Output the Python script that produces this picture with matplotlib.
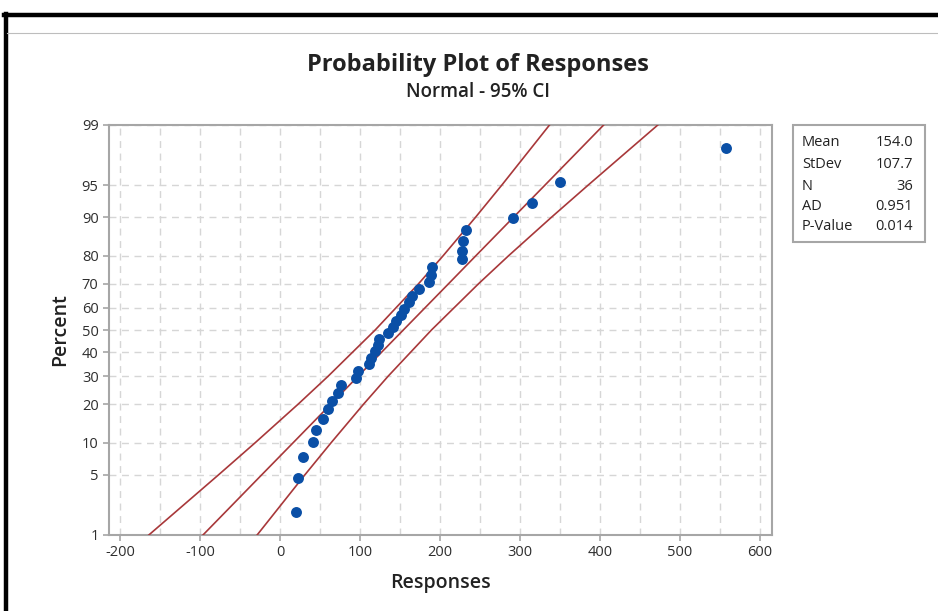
import matplotlib
matplotlib.use("Agg")
import matplotlib.pyplot as plt
import numpy as np
from statistics import NormalDist
from matplotlib.lines import Line2D
from matplotlib.patches import Rectangle

# data
responses = [20, 22, 28, 41, 45, 54, 60, 65, 72, 76, 95, 97, 111, 113, 118, 122,
             124, 135, 141, 145, 151, 155, 161, 165, 174, 186, 188, 190, 228, 228,
             229, 232, 291, 315, 350, 557]
percents = [1.92, 4.67, 7.42, 10.16, 12.91, 15.66, 18.41, 21.15, 23.90, 26.65,
            29.40, 32.14, 34.89, 37.64, 40.38, 43.13, 45.88, 48.63, 51.37, 54.12,
            56.87, 59.62, 62.36, 65.11, 67.86, 70.60, 73.35, 76.10, 78.85, 81.59,
            84.34, 87.09, 89.84, 92.58, 95.33, 98.08]

# fitted line and 95% CI bands (x read at these percent levels)
band_pct = [1, 5, 10, 20, 30, 50, 70, 80, 90, 95, 99]
fit_x = [-96.5, -23.2, 16.0, 63.4, 97.5, 154.0, 210.5, 244.6, 292.0, 331.2, 404.5]
ci_low = [-164.2, -77.2, -31.5, 22.5, 60.0, 118.8, 173.0, 203.7, 244.5, 277.2, 336.8]
ci_high = [-28.8, 30.8, 63.5, 104.3, 135.0, 189.2, 248.0, 285.5, 339.5, 385.2, 472.2]

y_ticks = [1, 5, 10, 20, 30, 40, 50, 60, 70, 80, 90, 95, 99]
x_ticks = [-200, -100, 0, 100, 200, 300, 400, 500, 600]
x_minor = [-150, -50, 50, 150, 250, 350, 450, 550]

stat_names = ["Mean", "StDev", "N", "AD", "P-Value"]
stat_values = ["154.0", "107.7", "36", "0.951", "0.014"]

plt.rcParams['font.family'] = ['Open Sans', 'DejaVu Sans']

nd = NormalDist()
def fwd(p):
    p = np.clip(np.asarray(p, float), 1e-4, 100 - 1e-4)
    return np.vectorize(lambda v: nd.inv_cdf(v / 100.0), otypes=[float])(p)

def inv(z):
    z = np.asarray(z, float)
    return np.vectorize(lambda v: nd.cdf(v) * 100.0, otypes=[float])(z)

W, H = 938, 611
fig = plt.figure(figsize=(W / 100, H / 100), dpi=100)
ax = fig.add_axes([109 / W, 1 - 535 / H, (772 - 109) / W, (535 - 125) / H])
ax.set_yscale('function', functions=(fwd, inv))

red = '#A8383A'
ax.plot(fit_x, band_pct, color=red, lw=1.2, zorder=3)
ax.plot(ci_low, band_pct, color=red, lw=1.2, zorder=3)
ax.plot(ci_high, band_pct, color=red, lw=1.2, zorder=3)
ax.scatter(responses, percents, s=62, color='#0A4FA6', zorder=4, linewidths=0)

ax.set_xlim(-214, 615)
ax.set_ylim(1, 99)
ax.set_yticks(y_ticks)
ax.set_yticklabels([str(v) for v in y_ticks])
ax.set_yticks([], minor=True)
ax.set_xticks(x_ticks)
ax.set_xticklabels([str(v) for v in x_ticks])
ax.set_xticks(x_minor, minor=True)

gcol = '#d6d6d6'
ax.grid(True, which='major', axis='y', color=gcol, ls=(0, (5, 4)), lw=1)
ax.grid(True, which='both', axis='x', color=gcol, ls=(0, (5, 4)), lw=1)
ax.set_axisbelow(True)

for s in ax.spines.values():
    s.set_color('#a6a6a6')
    s.set_linewidth(1.5)
ax.tick_params(axis='both', which='major', direction='out', length=4,
               color='#a6a6a6', labelcolor='#2e2e2e', labelsize=10.5, width=1.2)
ax.tick_params(axis='x', which='minor', length=0)

fig.text(440 / W, 1 - 583 / H, 'Responses', ha='center', va='center',
         fontsize=14, fontweight='semibold', color='#222222')
fig.text(60 / W, 1 - 330 / H, 'Percent', ha='center', va='center', rotation=90,
         fontsize=14, fontweight='semibold', color='#222222')

fig.text(478 / W, 1 - 65 / H, 'Probability Plot of Responses', ha='center',
         va='center', fontsize=17, fontweight='bold', color='#222222')
fig.text(478 / W, 1 - 92 / H, 'Normal - 95% CI', ha='center', va='center',
         fontsize=13.5, fontweight='semibold', color='#222222')

# stats box
fig.patches.append(Rectangle((793 / W, 1 - 242 / H), 132 / W, 117 / H,
                             transform=fig.transFigure, fill=False,
                             edgecolor='#a6a6a6', lw=1.5))
rows_y = [143, 165, 186, 206, 227]
for name, val, yy in zip(stat_names, stat_values, rows_y):
    fig.text(802 / W, 1 - yy / H, name, ha='left', va='center', fontsize=10.5,
             color='#222222')
    fig.text(913 / W, 1 - yy / H, val, ha='right', va='center', fontsize=10.5,
             color='#222222')

# outer frame like the screenshot
fig.lines.append(Line2D([4 / W, 1], [1 - 15 / H, 1 - 15 / H], transform=fig.transFigure,
                        color='black', lw=3.2))
fig.lines.append(Line2D([5.5 / W, 5.5 / W], [0, 1 - 13.5 / H], transform=fig.transFigure,
                        color='black', lw=3.2))
fig.lines.append(Line2D([7 / W, 1], [1 - 33 / H, 1 - 33 / H], transform=fig.transFigure,
                        color='#bdbdbd', lw=0.8))

fig.savefig('out.png', dpi=100)
